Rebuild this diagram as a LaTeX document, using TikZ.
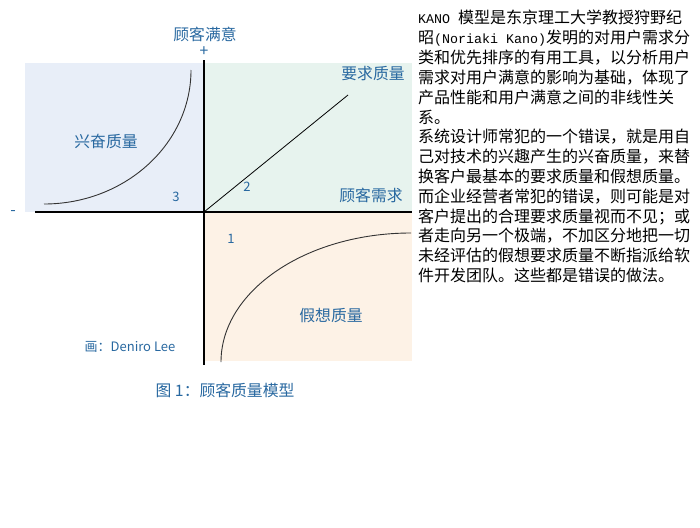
\documentclass[tikz,border=0pt]{standalone}
\usepackage{fontspec}
\setmainfont{Noto Sans CJK SC}
\newfontfamily\monof{Liberation Mono}
\definecolor{qblue}{RGB}{232,238,248}
\definecolor{qgreen}{RGB}{231,243,238}
\definecolor{qorange}{RGB}{253,242,230}
\definecolor{lblue}{RGB}{40,104,160}
\tikzset{
  lbl/.style={text=lblue, inner sep=0pt, font=\fontsize{15.8}{18}\selectfont},
  num/.style={text=lblue, inner sep=0pt, font=\fontsize{13}{15}\selectfont},
  para/.style={anchor=base west, inner sep=0pt, text=black, font=\fontsize{16}{19}\selectfont},
  axis/.style={line width=1.3pt, black},
  curve/.style={line width=0.9pt, black!80},
}
\newcommand{\mn}[1]{{\monof\fontsize{13.33}{16}\selectfont #1}}
\begin{document}
\begin{tikzpicture}[x=1pt,y=-1pt]
\useasboundingbox (0,0) rectangle (700,527);
% regions
\fill[qblue] (25,63) rectangle (204,212);
\fill[qgreen] (204,63) rectangle (412,212);
\fill[qorange] (204,212) rectangle (412,361);
% axes
\coordinate (xl) at (35,212);
\coordinate (xr) at (412,212);
\coordinate (yt) at (204,60);
\coordinate (yb) at (204,365);
\coordinate (o) at (204,212);
\draw[axis] (xl) -- (xr);
\draw[axis] (yt) -- (yb);
% curves
\coordinate (c3a) at (44,204);
\coordinate (c3b) at (191,70);
\draw[curve] (c3a) .. controls (125,204) and (191,144) .. (c3b);
\coordinate (c2) at (348,95);
\draw[line width=0.8pt, black] (o) -- (c2);
\coordinate (c1a) at (221,362);
\coordinate (c1b) at (411,233);
\draw[curve] (c1a) .. controls (221,291) and (306,233) .. (c1b);
% labels
\node[lbl] (ttl) at (205,34) {顾客满意};
\node[lbl] (plus) at (204,52) {+};
\node[lbl] (minus) at (13,213) {-};
\node[lbl] (req) at (373,74) {要求质量};
\node[lbl] (need) at (371,195) {顾客需求};
\node[lbl] (exc) at (106,141) {兴奋质量};
\node[lbl] (hyp) at (331,316) {假想质量};
\node[num] (n3) at (176,197) {3};
\node[num] (n2) at (247,187) {2};
\node[num] (n1) at (231,239) {1};
\node[text=lblue, inner sep=0pt, font=\fontsize{13}{15}\selectfont] (auth) at (130,347) {画：Deniro Lee};
\node[lbl] (cap) at (225,390) {图 1：顾客质量模型};
% paragraph
\node[para] (p1) at (418,24) {\mn{KANO }模型是东京理工大学教授狩野纪};
\node[para] (p2) at (418,43.8) {昭\mn{(Noriaki Kano)}发明的对用户需求分};
\node[para] (p3) at (418,63.6) {类和优先排序的有用工具，以分析用户};
\node[para] (p4) at (418,83.4) {需求对用户满意的影响为基础，体现了};
\node[para] (p5) at (418,103.2) {产品性能和用户满意之间的非线性关};
\node[para] (p6) at (418,123) {系。};
\node[para] (p7) at (418,142.8) {系统设计师常犯的一个错误，就是用自};
\node[para] (p8) at (418,162.6) {己对技术的兴趣产生的兴奋质量，来替};
\node[para] (p9) at (418,182.4) {换客户最基本的要求质量和假想质量。};
\node[para] (p10) at (418,202.2) {而企业经营者常犯的错误，则可能是对};
\node[para] (p11) at (418,222) {客户提出的合理要求质量视而不见；或};
\node[para] (p12) at (418,241.8) {者走向另一个极端，不加区分地把一切};
\node[para] (p13) at (418,261.6) {未经评估的假想要求质量不断指派给软};
\node[para] (p14) at (418,281.4) {件开发团队。这些都是错误的做法。};
\end{tikzpicture}
\end{document}
